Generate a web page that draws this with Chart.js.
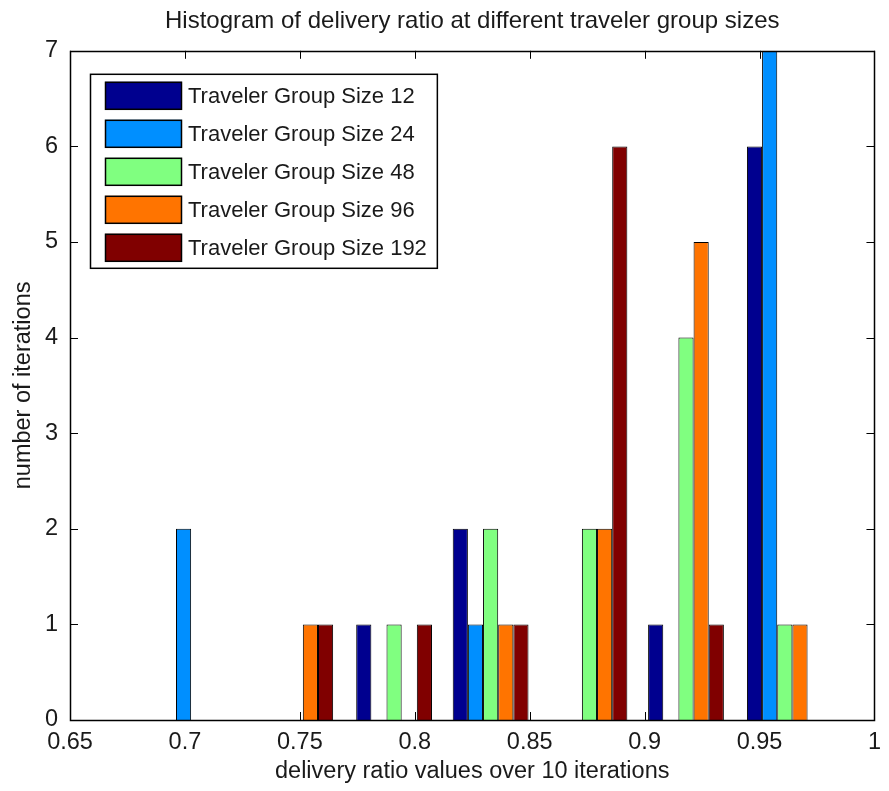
<!DOCTYPE html>
<html>
<head>
<meta charset="utf-8">
<title>Histogram of delivery ratio</title>
<script src="https://cdn.jsdelivr.net/npm/chart.js@4/dist/chart.umd.min.js"></script>
<style>
  html, body { margin: 0; padding: 0; background: #ffffff; }
  #wrap { width: 889px; height: 791px; }
</style>
</head>
<body>
<div id="wrap"><canvas id="chart" width="889" height="791"></canvas></div>
<script>
// Histogram bin centres (delivery ratio)
const binCenters = [0.706, 0.748, 0.791, 0.833, 0.876, 0.918, 0.961];

// Number of iterations falling into each bin, per traveler group size
const size12  = [0, 0, 1, 2, 0, 1, 6];
const size24  = [2, 0, 0, 1, 0, 0, 7];
const size48  = [0, 0, 1, 2, 2, 4, 1];
const size96  = [0, 1, 0, 1, 2, 5, 1];
const size192 = [0, 1, 1, 1, 6, 1, 0];

const seriesLabels = [
  'Traveler Group Size 12',
  'Traveler Group Size 24',
  'Traveler Group Size 48',
  'Traveler Group Size 96',
  'Traveler Group Size 192'
];
const seriesColors = ['#00008F', '#008FFF', '#80FF80', '#FF7400', '#800000'];

const xTicks = [0.65, 0.7, 0.75, 0.8, 0.85, 0.9, 0.95, 1];
const yTicks = [0, 1, 2, 3, 4, 5, 6, 7];

const FONT = "'Liberation Sans', Arial, Helvetica, sans-serif";
const TEXT = '#1a1a1a';

const seriesValues = [size12, size24, size48, size96, size192];
const datasets = seriesValues.map((vals, i) => ({
  label: seriesLabels[i],
  data: binCenters.map((c, j) => ({ x: c, y: vals[j] })),
  backgroundColor: seriesColors[i],
  borderColor: '#000000',
  borderWidth: 1,
  categoryPercentage: 0.785,
  barPercentage: 1.0
}));

// Box around the axes with inward tick marks (MATLAB style)
const axesFrame = {
  id: 'axesFrame',
  beforeDatasetsDraw(chart) {
    const { ctx, chartArea: a, scales: { x, y } } = chart;
    const len = 8;
    ctx.save();
    ctx.strokeStyle = '#000000';
    ctx.lineWidth = 1;
    ctx.beginPath();
    xTicks.forEach(v => {
      const px = Math.round(x.getPixelForValue(v)) + 0.5;
      ctx.moveTo(px, a.bottom); ctx.lineTo(px, a.bottom - len);
      ctx.moveTo(px, a.top); ctx.lineTo(px, a.top + len);
    });
    yTicks.forEach(v => {
      const py = Math.round(y.getPixelForValue(v)) + 0.5;
      ctx.moveTo(a.left, py); ctx.lineTo(a.left + len, py);
      ctx.moveTo(a.right, py); ctx.lineTo(a.right - len, py);
    });
    ctx.stroke();
    ctx.restore();
  },
  afterDatasetsDraw(chart) {
    const { ctx, chartArea: a } = chart;
    ctx.save();
    ctx.strokeStyle = '#000000';
    ctx.lineWidth = 1.5;
    ctx.strokeRect(Math.round(a.left) + 0.5, Math.round(a.top) + 0.5,
                   Math.round(a.right - a.left), Math.round(a.bottom - a.top));
    ctx.restore();
  }
};

// Boxed legend inside the upper-left corner of the axes
const boxLegend = {
  id: 'boxLegend',
  afterDraw(chart) {
    const { ctx, chartArea: a } = chart;
    const ds = chart.data.datasets;
    const fontSize = 22;
    const boxX = a.left + 20, boxY = a.top + 23;
    const padTop = 8, rowStep = 38, patchW = 77, patchH = 28;
    const patchX = boxX + 15, textX = patchX + patchW + 6;
    ctx.save();
    ctx.font = fontSize + 'px ' + FONT;
    let maxW = 0;
    ds.forEach(d => { maxW = Math.max(maxW, ctx.measureText(d.label).width); });
    const boxW = textX - boxX + maxW + 10;
    const boxH = padTop + rowStep * (ds.length - 1) + patchH + 6;
    ctx.fillStyle = '#ffffff';
    ctx.fillRect(boxX, boxY, boxW, boxH);
    ctx.strokeStyle = '#000000';
    ctx.lineWidth = 1.5;
    ctx.strokeRect(boxX + 0.5, boxY + 0.5, boxW, boxH);
    ds.forEach((d, i) => {
      const py = boxY + padTop + i * rowStep;
      ctx.fillStyle = d.backgroundColor;
      ctx.fillRect(patchX, py, patchW, patchH);
      ctx.lineWidth = 1.5;
      ctx.strokeStyle = '#000000';
      ctx.strokeRect(patchX + 0.5, py + 0.5, patchW - 1, patchH - 1);
      ctx.fillStyle = TEXT;
      ctx.textBaseline = 'middle';
      ctx.textAlign = 'left';
      ctx.fillText(d.label, textX, py + patchH / 2 + 1);
    });
    ctx.restore();
  }
};

new Chart(document.getElementById('chart'), {
  type: 'bar',
  data: { datasets },
  plugins: [axesFrame, boxLegend],
  options: {
    responsive: false,
    devicePixelRatio: 1,
    animation: false,
    layout: { padding: { left: 0, right: 9, top: 0, bottom: 0 } },
    plugins: {
      legend: { display: false },
      tooltip: { enabled: false },
      title: {
        display: true,
        fullSize: false,
        text: 'Histogram of delivery ratio at different traveler group sizes',
        color: TEXT,
        font: { family: FONT, size: 24, weight: 'normal' },
        padding: { top: 7, bottom: 15 }
      }
    },
    scales: {
      x: {
        type: 'linear',
        min: 0.65,
        max: 1,
        offset: false,
        afterBuildTicks(scale) { scale.ticks = xTicks.map(v => ({ value: v })); },
        afterFit(scale) { scale.height = 71; },
        ticks: {
          color: TEXT,
          font: { family: FONT, size: 23.5 },
          padding: 8,
          maxRotation: 0,
          autoSkip: false,
          callback: v => String(Number(v.toFixed(2)))
        },
        grid: { display: false, drawTicks: false },
        border: { display: false },
        title: {
          display: true,
          text: 'delivery ratio values over 10 iterations',
          color: TEXT,
          font: { family: FONT, size: 23.5 },
          padding: { top: 0, bottom: 5 }
        }
      },
      y: {
        min: 0,
        max: 7,
        afterBuildTicks(scale) { scale.ticks = yTicks.map(v => ({ value: v })); },
        afterFit(scale) { scale.width = 70; },
        ticks: {
          color: TEXT,
          font: { family: FONT, size: 23.5 },
          padding: 12,
          autoSkip: false
        },
        grid: { display: false, drawTicks: false },
        border: { display: false },
        title: {
          display: true,
          text: 'number of iterations',
          color: TEXT,
          font: { family: FONT, size: 23.5 },
          padding: { top: 9, bottom: 0 }
        }
      }
    }
  }
});
</script>
</body>
</html>
